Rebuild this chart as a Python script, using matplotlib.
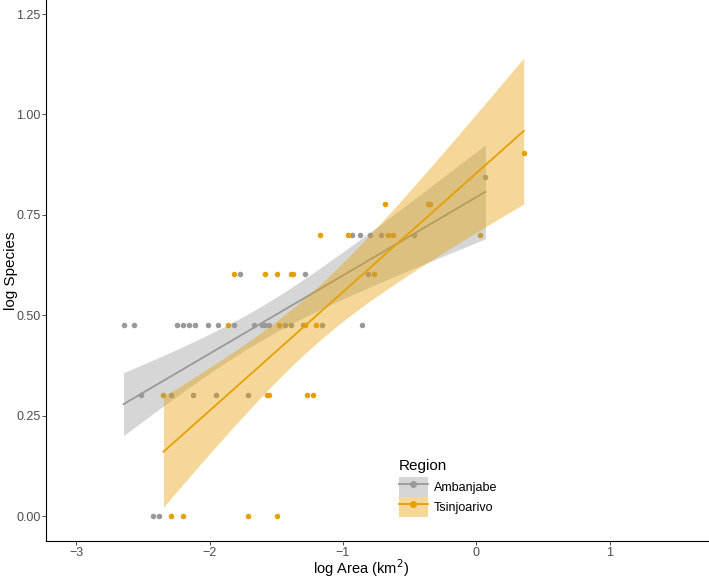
import math

import matplotlib
matplotlib.use("Agg")
import matplotlib.pyplot as plt
import numpy as np
from matplotlib.lines import Line2D
from matplotlib.patches import Patch

plt.rcParams["font.family"] = ["Liberation Sans", "DejaVu Sans"]

GREY = "#999999"
ORANGE = "#E69F00"

regions = ["Ambanjabe", "Tsinjoarivo"]
region_colors = [GREY, ORANGE]

# log10(area) and log10(species) per site
amb_area = [-2.644, -2.562, -2.247, -2.202, -2.150, -2.105, -2.015, -1.933, -1.813,
            -1.670, -1.610, -1.581, -1.558, -1.431, -1.393, -1.303, -1.161, -0.854,
            -2.517, -2.292, -2.127, -1.948, -1.708,
            -2.427, -2.382,
            -1.775, -1.288, -0.816,
            -0.936, -0.869, -0.801, -0.714, -0.467,
            0.067]
amb_species = [0.477] * 18 + [0.301] * 5 + [0.0] * 2 + [0.602] * 3 + [0.699] * 5 + [0.845]

tsi_area = [-1.858, -1.476, -1.281, -1.199,
            -2.345, -1.573, -1.558, -1.273, -1.228,
            -2.285, -2.195, -1.708, -1.498,
            -1.820, -1.588, -1.498, -1.386, -1.376, -0.764,
            -1.176, -0.959, -0.663, -0.622, 0.030,
            -0.682, -0.360, -0.345,
            0.354]
tsi_species = ([0.477] * 4 + [0.301] * 5 + [0.0] * 4 + [0.602] * 6 + [0.699] * 5
               + [0.778] * 3 + [0.903])

x_ticks = [-3, -2, -1, 0, 1]
y_ticks = [0.0, 0.25, 0.5, 0.75, 1.0, 1.25]


def t975(df):
    # Cornish-Fisher expansion for the 97.5% Student t quantile
    z = 1.959964
    return (z + (z**3 + z) / (4 * df)
            + (5 * z**5 + 16 * z**3 + 3 * z) / (96 * df**2)
            + (3 * z**7 + 19 * z**5 + 17 * z**3 - 15 * z) / (384 * df**3))


def lm_band(x, y, n=80):
    x = np.asarray(x)
    y = np.asarray(y)
    slope, intercept = np.polyfit(x, y, 1)
    resid = y - (intercept + slope * x)
    df = len(x) - 2
    s = math.sqrt(np.sum(resid**2) / df)
    grid = np.linspace(x.min(), x.max(), n)
    fit = intercept + slope * grid
    se = s * np.sqrt(1 / len(x) + (grid - x.mean())**2 / np.sum((x - x.mean())**2))
    half = t975(df) * se
    return grid, fit, fit - half, fit + half


fig = plt.figure(figsize=(7.09, 5.78), dpi=100)
ax = fig.add_axes([46 / 709, 1 - 541 / 578, 663 / 709, 541 / 578])

series = [(amb_area, amb_species), (tsi_area, tsi_species)]
for (xs, ys), col in zip(series, region_colors):
    ax.scatter(xs, ys, s=16, color=col, linewidths=0, zorder=2)

for (xs, ys), col in zip(series, region_colors):
    grid, fit, lo, hi = lm_band(xs, ys)
    ax.fill_between(grid, lo, hi, color=col, alpha=0.4, linewidth=0, zorder=3)
    ax.plot(grid, fit, color=col, lw=1.3, zorder=3)

ax.set_xlim(-3.225, 1.742)
ax.set_ylim(-0.062, 1.285)
ax.set_xticks(x_ticks)
ax.set_xticklabels([f"\u2212{abs(v)}" if v < 0 else str(v) for v in x_ticks])
ax.set_yticks(y_ticks)
ax.set_yticklabels([f"{v:.2f}" for v in y_ticks])
ax.tick_params(labelsize=9, labelcolor="#4D4D4D", color="#333333", length=3,
               width=0.6, pad=1)

for side in ["top", "right"]:
    ax.spines[side].set_visible(False)
for side in ["left", "bottom"]:
    ax.spines[side].set_linewidth(0.8)
    ax.spines[side].set_color("black")

ax.set_xlabel("log Area (km$^2$)", fontsize=10.5)
ax.set_ylabel("log Species", fontsize=11)
ax.xaxis.set_label_coords(0.5 - 17 / 663, -27.5 / 541)
ax.xaxis.label.set_va("center")
ax.yaxis.set_label_coords(-35 / 663, 0.5)
ax.yaxis.label.set_va("center")

handles = []
for col in region_colors:
    box = Patch(facecolor=col, alpha=0.4, edgecolor="none")
    ln = Line2D([], [], color=col, lw=1.3, marker="o", markersize=4)
    handles.append((box, ln))
leg = ax.legend(handles, regions, title="Region", frameon=False,
                loc="upper left", bbox_to_anchor=(394 / 709, 1 - 454 / 578),
                bbox_transform=fig.transFigure, fontsize=9, title_fontsize=11,
                handlelength=2.3, handleheight=2.1, labelspacing=0.0,
                handletextpad=0.5, borderaxespad=0, alignment="left")
leg._legend_box.sep = 3

fig.savefig("out.png", dpi=100)
